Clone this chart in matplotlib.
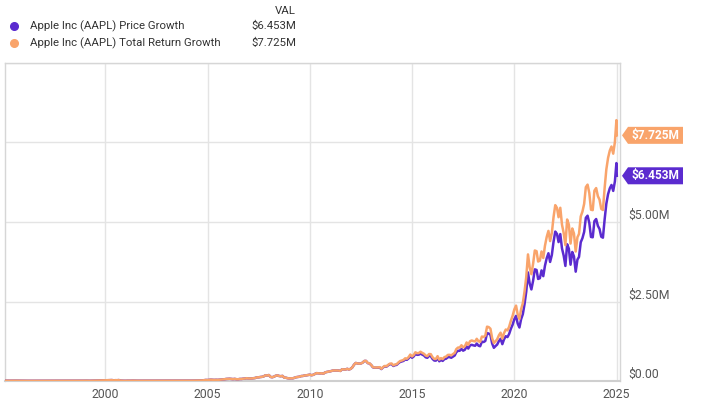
import matplotlib
matplotlib.use("Agg")
import matplotlib.pyplot as plt
import pandas as pd
from matplotlib.patches import Polygon

plt.rcParams['font.family'] = ['Roboto', 'DejaVu Sans']

# ---------------- data (values in $M) ----------------
price_growth = [
    0.010, 0.009, 0.008, 0.009, 0.010, 0.011, 0.011, 0.010, 0.009, 0.008, 0.009, 0.008,  # 1995
    0.007, 0.006, 0.006, 0.006, 0.006, 0.005, 0.004, 0.005, 0.005, 0.006, 0.006, 0.005,  # 1996
    0.004, 0.004, 0.004, 0.004, 0.004, 0.003, 0.004, 0.004, 0.005, 0.004, 0.004, 0.003,  # 1997
    0.004, 0.005, 0.006, 0.006, 0.007, 0.007, 0.008, 0.007, 0.009, 0.009, 0.009, 0.010,  # 1998
    0.010, 0.008, 0.008, 0.011, 0.011, 0.011, 0.013, 0.015, 0.015, 0.019, 0.021, 0.024,  # 1999
    0.025, 0.027, 0.032, 0.029, 0.020, 0.025, 0.024, 0.029, 0.012, 0.009, 0.008, 0.007,  # 2000
    0.010, 0.009, 0.010, 0.012, 0.010, 0.011, 0.009, 0.009, 0.007, 0.008, 0.010, 0.010,  # 2001
    0.012, 0.010, 0.011, 0.011, 0.011, 0.008, 0.007, 0.007, 0.007, 0.008, 0.007, 0.007,  # 2002
    0.007, 0.007, 0.007, 0.007, 0.008, 0.009, 0.010, 0.011, 0.010, 0.011, 0.010, 0.010,  # 2003
    0.011, 0.011, 0.013, 0.012, 0.013, 0.015, 0.015, 0.016, 0.018, 0.025, 0.032, 0.030,  # 2004
    0.036, 0.042, 0.039, 0.034, 0.038, 0.035, 0.040, 0.044, 0.051, 0.055, 0.064, 0.068,  # 2005
    0.071, 0.065, 0.059, 0.066, 0.056, 0.054, 0.064, 0.064, 0.073, 0.077, 0.087, 0.080,  # 2006
    0.081, 0.080, 0.088, 0.094, 0.115, 0.115, 0.125, 0.131, 0.145, 0.179, 0.172, 0.187,  # 2007
    0.128, 0.118, 0.136, 0.164, 0.178, 0.158, 0.150, 0.160, 0.107, 0.102, 0.088, 0.081,  # 2008
    0.085, 0.084, 0.099, 0.119, 0.128, 0.135, 0.155, 0.159, 0.175, 0.178, 0.189, 0.199,  # 2009
    0.182, 0.193, 0.222, 0.247, 0.243, 0.238, 0.243, 0.230, 0.268, 0.284, 0.294, 0.305,  # 2010
    0.321, 0.334, 0.329, 0.331, 0.329, 0.317, 0.369, 0.364, 0.360, 0.383, 0.361, 0.383,  # 2011
    0.431, 0.513, 0.567, 0.552, 0.546, 0.552, 0.577, 0.629, 0.631, 0.563, 0.553, 0.503,  # 2012
    0.431, 0.417, 0.418, 0.418, 0.425, 0.375, 0.428, 0.460, 0.451, 0.494, 0.526, 0.530,  # 2013
    0.473, 0.497, 0.507, 0.558, 0.598, 0.615, 0.632, 0.678, 0.667, 0.714, 0.787, 0.730,  # 2014
    0.775, 0.850, 0.823, 0.828, 0.862, 0.830, 0.803, 0.746, 0.730, 0.791, 0.783, 0.696,  # 2015
    0.644, 0.640, 0.721, 0.620, 0.661, 0.632, 0.689, 0.702, 0.748, 0.751, 0.731, 0.766,  # 2016
    0.803, 0.906, 0.950, 0.950, 1.011, 0.953, 0.984, 1.085, 1.020, 1.118, 1.137, 1.120,  # 2017
    1.108, 1.178, 1.110, 1.093, 1.236, 1.225, 1.259, 1.506, 1.493, 1.448, 1.181, 1.044,  # 2018
    1.101, 1.146, 1.257, 1.328, 1.158, 1.309, 1.409, 1.381, 1.482, 1.646, 1.768, 1.942,  # 2019
    2.048, 1.808, 1.682, 1.944, 2.103, 2.413, 2.812, 3.414, 3.064, 2.880, 3.150, 3.511,  # 2020
    3.492, 3.209, 3.232, 3.478, 3.297, 3.624, 3.860, 4.017, 3.744, 3.964, 4.374, 4.699,  # 2021
    4.625, 4.369, 4.620, 4.171, 3.938, 3.618, 4.300, 4.160, 3.657, 4.057, 3.917, 3.438,  # 2022
    3.818, 3.901, 4.363, 4.490, 4.690, 5.132, 5.198, 4.971, 4.530, 4.519, 5.026, 5.094,  # 2023
    4.879, 4.783, 4.537, 4.507, 5.087, 5.573, 5.876, 6.059, 6.165, 5.978, 6.280,         # 2024 Jan-Nov
    6.853, 6.453,                                                                          # late Dec 2024, Jan 2025
]

# Total return equals price growth until dividends resumed (Aug 2012)
tr_growth = price_growth[:211] + [
    0.631, 0.633, 0.565, 0.558, 0.508,                                                    # 2012 Aug-Dec
    0.435, 0.423, 0.425, 0.425, 0.435, 0.383, 0.437, 0.474, 0.464, 0.509, 0.545, 0.550,  # 2013
    0.491, 0.518, 0.529, 0.581, 0.626, 0.644, 0.662, 0.714, 0.701, 0.752, 0.832, 0.773,  # 2014
    0.820, 0.903, 0.874, 0.879, 0.920, 0.885, 0.856, 0.800, 0.782, 0.848, 0.844, 0.751,  # 2015
    0.694, 0.693, 0.781, 0.672, 0.720, 0.689, 0.751, 0.769, 0.820, 0.823, 0.806, 0.845,  # 2016
    0.886, 1.003, 1.052, 1.052, 1.124, 1.060, 1.094, 1.212, 1.139, 1.249, 1.275, 1.256,  # 2017
    1.243, 1.327, 1.250, 1.231, 1.398, 1.385, 1.424, 1.709, 1.695, 1.643, 1.347, 1.190,  # 2018
    1.255, 1.311, 1.438, 1.519, 1.331, 1.504, 1.619, 1.592, 1.708, 1.897, 2.047, 2.249,  # 2019
    2.371, 2.098, 1.951, 2.255, 2.446, 2.807, 3.270, 3.981, 3.573, 3.359, 3.683, 4.104,  # 2020
    4.082, 3.757, 3.785, 4.073, 3.868, 4.251, 4.527, 4.720, 4.399, 4.657, 5.148, 5.530,  # 2021
    5.443, 5.151, 5.447, 4.918, 4.651, 4.272, 5.078, 4.917, 4.322, 4.796, 4.638, 4.071,  # 2022
    4.520, 4.626, 5.175, 5.325, 5.572, 6.097, 6.175, 5.911, 5.386, 5.373, 5.986, 6.067,  # 2023
    5.811, 5.706, 5.413, 5.377, 6.074, 6.654, 7.016, 7.247, 7.374, 7.149, 7.517,         # 2024 Jan-Nov
    8.203, 7.725,
]

dates = list(pd.date_range("1995-01-31", "2024-11-30", freq="ME")) + \
        [pd.Timestamp("2024-12-27"), pd.Timestamp("2025-01-03")]

series_names = ["Apple Inc (AAPL) Price Growth", "Apple Inc (AAPL) Total Return Growth"]
final_labels = ["$6.453M", "$7.725M"]
y_ticks = [0.0, 2.5, 5.0, 7.5, 10.0]
y_tick_labels = ["$0.00", "$2.50M", "$5.00M", "", ""]
x_tick_years = [2000, 2005, 2010, 2015, 2020, 2025]

PURPLE = "#5B2BCF"
ORANGE = "#F9A46B"
GRID = "#e4e4e4"
TXT = "#555555"
FS = 8.2

n = min(len(dates), len(price_growth), len(tr_growth))
dates = dates[:n]; price_growth = price_growth[:n]; tr_growth = tr_growth[:n]

W, H = 701, 413
fig = plt.figure(figsize=(W / 100, H / 100), dpi=100)
ax = fig.add_axes([5 / W, (H - 381) / H, (620 - 5) / W, (381 - 63) / H])

ax.plot(dates, price_growth, color=PURPLE, lw=1.8, solid_joinstyle="round", zorder=3)
ax.plot(dates, tr_growth, color=ORANGE, lw=1.8, solid_joinstyle="round", zorder=4)

ax.set_xlim(pd.Timestamp("1995-02-06"), pd.Timestamp("2025-03-01"))
ax.set_ylim(0, 10)
ax.set_yticks(y_ticks)
ax.set_xticks([pd.Timestamp(f"{y}-01-01") for y in x_tick_years])
ax.grid(True, color=GRID, lw=1.0, zorder=0)
ax.tick_params(length=0, labelleft=False, labelbottom=False)
for s in ax.spines.values():
    s.set_color("#d6d6d6")
    s.set_linewidth(1.0)
ax.spines["bottom"].set_color("#cfcfcf")
ax.spines["bottom"].set_linewidth(1.5)

# y tick labels on the right, slightly above the gridline
for v, lab in zip(y_ticks, y_tick_labels):
    if lab:
        ax.annotate(lab, xy=(1.0, v), xycoords=("axes fraction", "data"),
                    xytext=(6, 4.5), textcoords="offset points",
                    ha="left", va="center", fontsize=FS + 0.6, color=TXT)

# x tick labels
for y in x_tick_years:
    ax.annotate(str(y), xy=(pd.Timestamp(f"{y}-01-01"), 0),
                xycoords=("data", "axes fraction"),
                xytext=(0, -10), textcoords="offset points",
                ha="center", va="center", fontsize=FS + 0.6, color=TXT)

fig.canvas.draw()

# value flags at the right
for vals, col, lab in [(price_growth, PURPLE, final_labels[0]), (tr_growth, ORANGE, final_labels[1])]:
    yd = ax.transData.transform((ax.get_xlim()[0], vals[-1]))[1]
    x0, x1, x2 = 622, 628, 683
    h = 8.5
    poly = Polygon([(x0, yd), (x1, yd + h), (x2, yd + h), (x2, yd - h), (x1, yd - h)],
                   closed=True, transform=None, facecolor=col, edgecolor="none", zorder=10)
    fig.patches.append(poly)
    fx = (x1 + x2) / 2 / W
    fig.text(fx, yd / H, lab, ha="center", va="center", color="white",
             fontsize=8.6, fontweight="bold", zorder=11)

# legend block
def fy(y_img):
    return 1 - y_img / H

fig.text(296 / W, fy(11), "VAL", ha="right", va="center", fontsize=FS, color="#333333")
for yi, col, name, lab in [(26, PURPLE, series_names[0], final_labels[0]),
                           (43, ORANGE, series_names[1], final_labels[1])]:
    fig.add_artist(plt.Line2D([14 / W], [fy(yi)], marker="o", markersize=5.5,
                              color=col, transform=fig.transFigure, linestyle="none"))
    fig.text(30 / W, fy(yi), name, ha="left", va="center", fontsize=FS, color="#333333")
    fig.text(296 / W, fy(yi), lab, ha="right", va="center", fontsize=FS, color="#333333")

fig.savefig("out.png", dpi=100)
